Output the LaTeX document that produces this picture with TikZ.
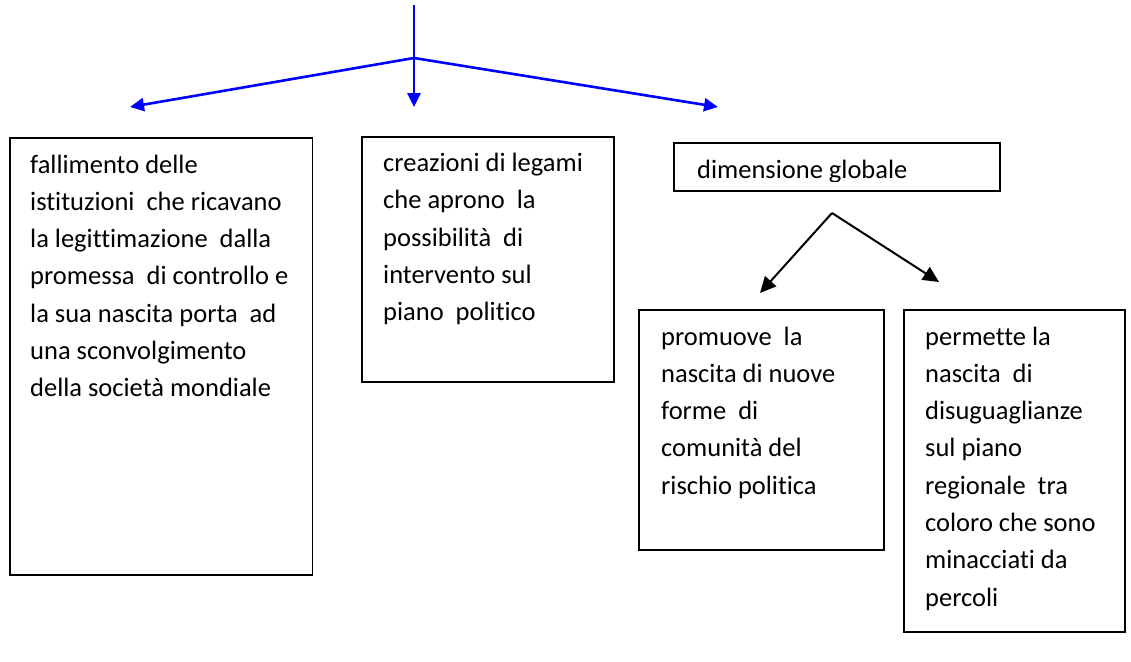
\documentclass[tikz,border=0pt]{standalone}
\usepackage{fontspec}
\setmainfont{Carlito}[Ligatures={NoCommon}]
\usetikzlibrary{arrows.meta}

\tikzset{
  box/.style={draw, line width=1.4pt, anchor=north west, inner sep=0pt, outer sep=0pt},
  txt/.style={anchor=base west, align=left, inner sep=0pt, font=\fontsize{26.5}{37.3}\selectfont},
  bluearrow/.style={draw=blue, line width=2.6pt, -{Triangle[length=14pt,width=13pt]}},
  blackarrow/.style={draw=black, line width=2pt, -{Triangle[length=16pt,width=15pt]}}
}

\begin{document}
\begin{tikzpicture}[x=1pt, y=-1pt]
  \useasboundingbox (0,0) rectangle (1131,661);

  % frecce blu
  \coordinate (src) at (414,5);
  \coordinate (fork) at (414,58);
  \coordinate (tipL) at (130,107);
  \coordinate (tipM) at (414,107);
  \coordinate (tipR) at (718,107);
  \draw [bluearrow] (src) -- (tipM);
  \draw [bluearrow] (fork) -- (tipL);
  \draw [bluearrow] (fork) -- (tipR);

  % fallimento (base = ultima riga)
  \node [box, minimum width=302.5pt, minimum height=437pt] (fail) at (10,138) {};
  \node [txt] (failtxt) at (30,396.8) {fallimento delle\\istituzioni~ che ricavano\\la legittimazione~ dalla\\promessa~ di controllo e\\la sua nascita porta~ ad\\una sconvolgimento\\della società mondiale};

  % legami
  \node [box, minimum width=252pt, minimum height=245pt] (bond) at (362,137) {};
  \node [txt] (bondtxt) at (383,320.7) {creazioni di legami\\che aprono~ la\\possibilità~ di\\intervento sul\\piano~ politico};

  % dimensione globale
  \node [box, minimum width=326pt, minimum height=48pt] (glob) at (674,143) {};
  \begin{scope}
    \clip (674,143) rectangle (1000,181);
    \node [txt] (globtxt) at (697,178.3) {dimensione globale};
  \end{scope}

  % frecce nere
  \coordinate (apex) at (832,213);
  \coordinate (tipA) at (760,293);
  \coordinate (tipB) at (939,282);
  \draw [blackarrow] (apex) -- (tipA);
  \draw [blackarrow] (apex) -- (tipB);

  % comunita
  \node [box, minimum width=245pt, minimum height=240pt] (comm) at (639,310) {};
  \node [txt] (commtxt) at (661,494.2) {promuove~ la\\nascita di nuove\\forme~ di\\comunità del\\rischio politica};

  % disuguaglianze
  \node [box, minimum width=221pt, minimum height=322pt] (ineq) at (904,310) {};
  \node [txt] (ineqtxt) at (925,606.1) {permette la\\nascita~ di\\disuguaglianze\\sul piano\\regionale~ tra\\coloro che sono\\minacciati da\\percoli};

\end{tikzpicture}
\end{document}
